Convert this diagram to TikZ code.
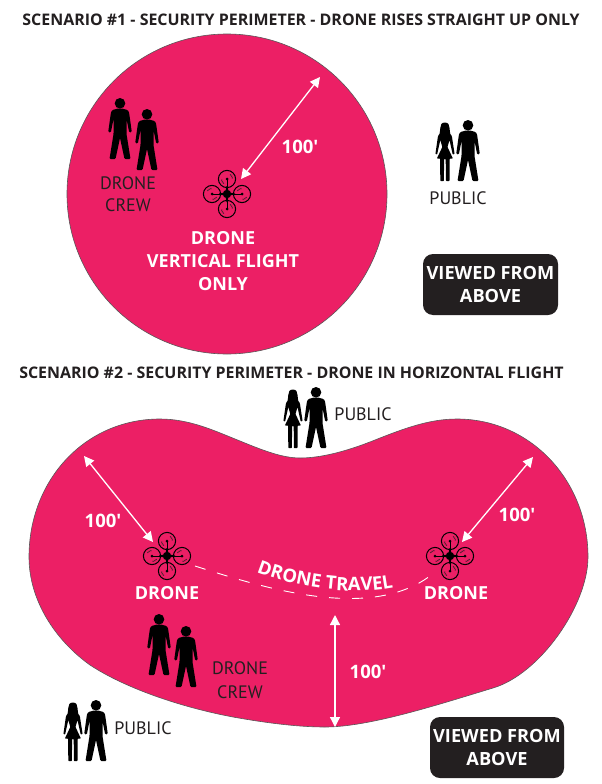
\documentclass[tikz,border=0pt]{standalone}
\usepackage{fontspec}
\setmainfont{PT Sans}
\newfontfamily\heavy{Open Sans}[BoldFont={Open Sans Bold},Scale=1]
\usetikzlibrary{arrows.meta,decorations.text}
\definecolor{zone}{HTML}{EC1F65}
\definecolor{ink}{HTML}{231F20}
\tikzset{
  zonefill/.style={fill=zone,draw=ink!75,line width=.6pt},
  title/.style={font=\heavy\bfseries\fontsize{15.95}{18}\selectfont,text=ink,inner sep=0pt},
  whitelab/.style={font=\heavy\bfseries\fontsize{18}{20}\selectfont,text=white,inner sep=0pt},
  dist/.style={font=\heavy\bfseries\fontsize{18.5}{20}\selectfont,text=white,inner sep=0pt},
  darklab/.style={font=\fontsize{18}{20}\selectfont,text=ink,inner sep=0pt},
  viewbox/.style={fill=ink,rounded corners=10pt,inner sep=0pt},
  viewtext/.style={font=\heavy\bfseries\fontsize{18.2}{23}\selectfont,text=white,align=center,inner sep=0pt},
  distline/.style={draw=white,line width=1.3pt,{Triangle[length=10pt,width=10pt]}-{Triangle[length=10pt,width=10pt]},shorten <=0pt,shorten >=0pt},
  manpic/.pic={
    \fill[black] (0,5.3) circle[radius=5.3];
    \fill[black,rounded corners=1pt] (-2,10.5)--(-7.5,12)--(-9,14)--(-11.8,34)--(-9.2,34.5)--(-6.5,21)--(-6.5,36)--(-10.5,61)--(-4.5,61)--(0,40)--(4.5,61)--(10.5,61)--(6.5,36)--(6.5,21)--(9.2,34.5)--(11.8,34)--(9,14)--(7.5,12)--(2,10.5)--cycle;
  },
  womanpic/.pic={
    \fill[black] (0,2.5) .. controls (-3.5,2.5) and (-4.6,5) .. (-4.6,8) .. controls (-4.6,11) and (-5.4,13) .. (-5.6,15) -- (5.6,15) .. controls (5.4,13) and (4.6,11) .. (4.6,8) .. controls (4.6,5) and (3.5,2.5) .. (0,2.5) -- cycle;
    \fill[black,rounded corners=.6pt] (-2,13)--(-6,14.5)--(-7,16.5)--(-9.5,34)--(-7.8,34.5)--(-4.6,20)--(-2.6,27)--(-8,38.5)--(-4.8,38.5)--(-4.6,61)--(-1,61)--(-.8,39)--(.8,39)--(1,61)--(4.6,61)--(4.8,38.5)--(8,38.5)--(2.6,27)--(4.6,20)--(7.8,34.5)--(9.7,34)--(7,16.5)--(6,14.5)--(2,13)--cycle;
  },
  couplepic/.pic={
    \pic at (-21,0) {womanpic};
    \pic at (0,0) {manpic};
  },
  dronepic/.pic={
    \foreach \a in {0,90,180,270}{
      \begin{scope}[rotate=\a]
        \draw[black,line width=1pt] (15,0) circle[radius=8.6];
        \draw[ink!85!zone,line width=1.2pt,dash pattern=on 1pt off .8pt] (15,0) ++(35:5.5) arc[start angle=35,end angle=85,radius=5.5];
        \draw[ink!85!zone,line width=1.2pt,dash pattern=on 1pt off .8pt] (15,0) ++(215:5.5) arc[start angle=215,end angle=265,radius=5.5];
        \draw[black,line width=1pt] (0,0)--(15,0);
        \fill[black] (15,0) circle[radius=1.5];
        \fill[black] (0,-1.8)--(8,-.6)--(8,.6)--(0,1.8)--cycle;
      \end{scope}
    }
    \fill[black] (0,0) circle[radius=4.2];
  }
}
\begin{document}
\begin{tikzpicture}[x=1pt,y=-1pt]
\useasboundingbox (0,0) rectangle (602,784);
\fill[white] (0,0) rectangle (602,784);

% zones
\draw[zonefill] (227,194) circle[radius=160];
\draw[zonefill] (160,419)
  .. controls (190,419) and (215,431) .. (240,441)
  .. controls (262,450) and (282,458) .. (300,458)
  .. controls (320,458) and (345,452) .. (375,440)
  .. controls (405,428) and (430,419) .. (457,419)
  .. controls (530,419) and (588,480) .. (588,557)
  .. controls (588,605) and (540,674) .. (493,688)
  .. controls (440,704) and (370,727) .. (325,727)
  .. controls (290,727) and (250,720) .. (233,717)
  .. controls (180,707) and (125,688) .. (90,665)
  .. controls (55,640) and (29,600) .. (29,557)
  .. controls (29,480) and (85,419) .. (160,419) -- cycle;

% titles
\node[title] (t1) at (301,20) {SCENARIO \#1 - SECURITY PERIMETER - DRONE RISES STRAIGHT UP ONLY};
\node[title] (t2) at (291.5,373) {SCENARIO \#2 - SECURITY PERIMETER - DRONE IN HORIZONTAL FLIGHT};

% people
\pic at (120,98) {manpic};
\pic at (147,109) {manpic};
\pic at (159,614) {manpic};
\pic at (186,626) {manpic};
\pic[scale=1.1] at (468,120) {couplepic};
\pic[scale=1.1] at (316,387) {couplepic};
\pic[scale=1.1] at (96,700) {couplepic};

% drones
\coordinate (d1) at (227,194);
\coordinate (d2) at (167,556);
\coordinate (d3) at (450,556);
\pic at (d1) {dronepic};
\pic at (d2) {dronepic};
\pic at (d3) {dronepic};

% distance arrows
\coordinate (a1) at (320,77);  \coordinate (b1) at (241,179);
\coordinate (a2) at (84,456);  \coordinate (b2) at (153,542);
\coordinate (a3) at (533,457); \coordinate (b3) at (462,542);
\coordinate (a4) at (335,615); \coordinate (b4) at (335,727);
\draw[distline] (a1) -- (b1);
\draw[distline] (a2) -- (b2);
\draw[distline] (a3) -- (b3);
\draw[distline] (a4) -- (b4);
\node[dist] (l1) at (300,147) {100′};
\node[dist] (l2) at (103,521) {100′};
\node[dist] (l3) at (517,515) {100′};
\node[dist] (l4) at (368,672) {100′};

% labels scenario 1
\node[whitelab] (s1a) at (223,238.5) {DRONE};
\node[whitelab] (s1b) at (223,261.5) {VERTICAL FLIGHT};
\node[whitelab] (s1c) at (223,284.5) {ONLY};
\node[darklab] (c1a) at (128,183) {DRONE};
\node[darklab] (c1b) at (128,205) {CREW};
\node[darklab] (p1) at (458,198) {PUBLIC};

% labels scenario 2
\node[whitelab] (s2a) at (167,593) {DRONE};
\node[whitelab] (s2b) at (456,593) {DRONE};
\node[darklab] (c2a) at (240,668) {DRONE};
\node[darklab] (c2b) at (240,692) {CREW};
\node[darklab] (p2) at (363,414) {PUBLIC};
\node[darklab] (p3) at (143,728) {PUBLIC};

% drone travel
\coordinate (t0) at (195,566);
\coordinate (t3) at (430,576);
\draw[white,line width=.9pt,dash pattern=on 11pt off 12pt] (t0) .. controls (270,590) and (370,620) .. (t3);
\coordinate (n0) at (254,571);
\coordinate (n3) at (396,587);
\path[decorate,decoration={text along path,text align=center,text color=white,
  text={|\heavy\bfseries\fontsize{18.5}{19}\selectfont|DRONE TRAVEL}}]
  (n0) .. controls (290,586) and (350,597) .. (n3);

% view boxes
\node[viewbox,minimum width=135pt,minimum height=61pt] (v1) at (490.5,284.5) {};
\node[viewtext] (v1t) at (490.5,284.5) {VIEWED FROM\\ABOVE};
\node[viewbox,minimum width=134pt,minimum height=61pt] (v2) at (497,747.5) {};
\node[viewtext] (v2t) at (497,747.5) {VIEWED FROM\\ABOVE};
\end{tikzpicture}
\end{document}
